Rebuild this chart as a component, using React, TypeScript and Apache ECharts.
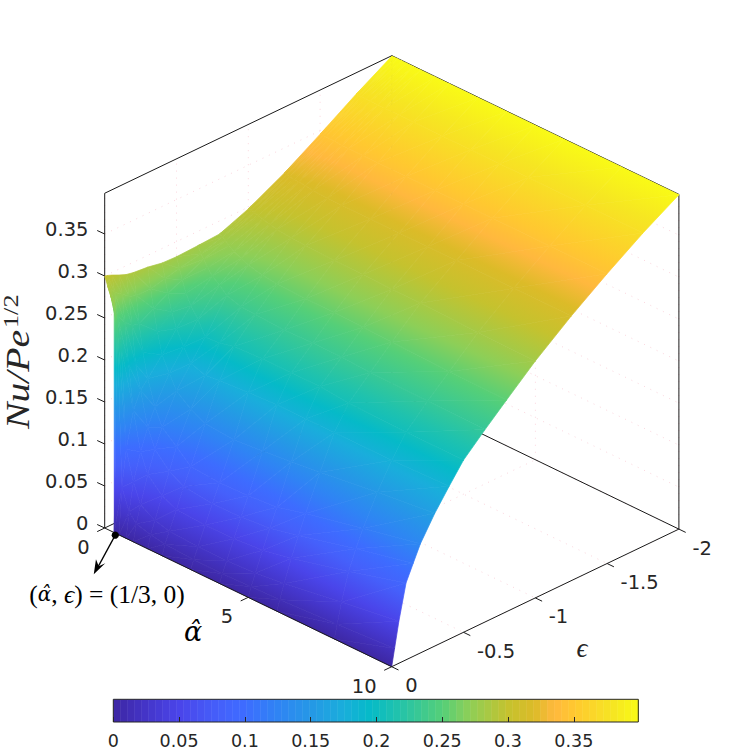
import React, { useEffect, useRef } from "react";
import * as echarts from "echarts";

const alphaValues = [0, 0.1, 0.2, 0.33, 1 / 3, 0.5, 0.75, 1, 1.5, 2, 3, 4, 5, 6, 8, 10];
const epsValues = [0, -0.02, -0.05, -0.1, -0.15, -0.2, -0.3, -0.4, -0.5, -0.65, -0.8, -1, -1.25, -1.5, -1.75, -2];
const nuRows = [
  [0.3, 0.299, 0.297, 0.293, 0.2895, 0.2877, 0.286, 0.2827, 0.282, 0.283, 0.2845, 0.298, 0.32, 0.346, 0.373, 0.398],
  [0.29, 0.285, 0.278, 0.272, 0.265, 0.262, 0.262, 0.266, 0.27, 0.275, 0.283, 0.298, 0.32, 0.346, 0.373, 0.398],
  [0.282, 0.268, 0.252, 0.24, 0.232, 0.23, 0.24, 0.25, 0.258, 0.27, 0.28, 0.297, 0.319, 0.346, 0.373, 0.398],
  [0.276, 0.245, 0.215, 0.192, 0.188, 0.198, 0.215, 0.23, 0.244, 0.262, 0.276, 0.296, 0.318, 0.346, 0.373, 0.398],
  [0, 0.245, 0.215, 0.192, 0.188, 0.198, 0.215, 0.23, 0.244, 0.262, 0.276, 0.296, 0.318, 0.346, 0.373, 0.398],
  [0, 0.055, 0.098, 0.14, 0.16, 0.17, 0.19, 0.213, 0.232, 0.255, 0.272, 0.294, 0.318, 0.346, 0.373, 0.398],
  [0, 0.03, 0.063, 0.095, 0.12, 0.14, 0.172, 0.195, 0.22, 0.248, 0.268, 0.292, 0.317, 0.345, 0.373, 0.398],
  [0, 0.02, 0.04, 0.072, 0.098, 0.12, 0.155, 0.18, 0.203, 0.24, 0.264, 0.29, 0.316, 0.345, 0.373, 0.398],
  [0, 0.015, 0.03, 0.055, 0.08, 0.105, 0.142, 0.174, 0.204, 0.235, 0.26, 0.288, 0.315, 0.345, 0.373, 0.398],
  [0, 0.012, 0.025, 0.047, 0.07, 0.09, 0.133, 0.176, 0.208, 0.234, 0.258, 0.287, 0.315, 0.345, 0.373, 0.398],
  [0, 0.01, 0.023, 0.045, 0.066, 0.087, 0.13, 0.178, 0.21, 0.232, 0.257, 0.286, 0.315, 0.345, 0.373, 0.398],
  [0, 0.01, 0.023, 0.045, 0.067, 0.088, 0.133, 0.18, 0.21, 0.233, 0.257, 0.286, 0.315, 0.345, 0.373, 0.398],
  [0, 0.011, 0.025, 0.048, 0.07, 0.091, 0.137, 0.18, 0.21, 0.233, 0.256, 0.285, 0.315, 0.345, 0.373, 0.398],
  [0, 0.012, 0.029, 0.055, 0.078, 0.1, 0.141, 0.18, 0.207, 0.231, 0.255, 0.285, 0.315, 0.345, 0.373, 0.398],
  [0, 0.016, 0.04, 0.072, 0.095, 0.115, 0.15, 0.18, 0.205, 0.23, 0.253, 0.283, 0.315, 0.345, 0.373, 0.398],
  [0, 0.02, 0.05, 0.0915, 0.111, 0.13, 0.158, 0.182, 0.205, 0.229, 0.252, 0.282, 0.315, 0.345, 0.373, 0.398],
];

const alphaTicks = [0, 5, 10];
const epsTicks = [0, -0.5, -1, -1.5, -2];
const nuTicks = [0, 0.05, 0.1, 0.15, 0.2, 0.25, 0.3, 0.35];
const nuTop = 0.3985;
const barMax = 0.399;
const singularPoint = [1 / 3, 0, -0.003];

const colorKnots: [number, string][] = [
  [0, "#3d27a3"],
  [0.025, "#4435c9"],
  [0.05, "#4a45ea"],
  [0.08, "#4560fb"],
  [0.1, "#3d6cff"],
  [0.125, "#2f84f4"],
  [0.15, "#2598e6"],
  [0.175, "#19aedb"],
  [0.195, "#05bac8"],
  [0.215, "#1fc2ae"],
  [0.25, "#55cf78"],
  [0.27, "#8ccf58"],
  [0.3, "#c5c22e"],
  [0.32, "#dcbb28"],
  [0.335, "#ffb83e"],
  [0.35, "#ffc830"],
  [0.38, "#f6e622"],
  [0.399, "#f9fb15"],
];

const hexToRgb = (h: string) => [1, 3, 5].map((i) => parseInt(h.slice(i, i + 2), 16));
function colorAt(z: number) {
  if (z <= colorKnots[0][0]) return colorKnots[0][1];
  for (let i = 1; i < colorKnots.length; i++) {
    if (z <= colorKnots[i][0]) {
      const [z0, c0] = colorKnots[i - 1];
      const [z1, c1] = colorKnots[i];
      const t = (z - z0) / (z1 - z0);
      const a = hexToRgb(c0);
      const b = hexToRgb(c1);
      return `rgb(${a.map((v, k) => Math.round(v + (b[k] - v) * t)).join(",")})`;
    }
  }
  return colorKnots[colorKnots.length - 1][1];
}

// the view of the 3-D box: orthographic, from alpha = 10, eps = 0
function project(a: number, e: number, z: number): [number, number] {
  return [104.7 + 28.7 * a - 143.6 * e, 528 + 13.87 * a + 68.8 * e - 840 * z];
}

type V = { p: [number, number]; z: number };
const triangles: V[][] = [];
for (let j = epsValues.length - 2; j >= 0; j--) {
  for (let i = 0; i < alphaValues.length - 1; i++) {
    const v = (r: number, c: number): V => ({
      p: project(alphaValues[r], epsValues[c], nuRows[r][c]),
      z: nuRows[r][c],
    });
    triangles.push([v(i, j + 1), v(i + 1, j + 1), v(i, j)]);
    triangles.push([v(i + 1, j + 1), v(i + 1, j), v(i, j)]);
  }
}

function triFill(pts: number[][], zs: number[]) {
  const [a, b, c] = pts;
  const det = (b[0] - a[0]) * (c[1] - a[1]) - (c[0] - a[0]) * (b[1] - a[1]);
  const zMin = Math.min(...zs);
  const zMax = Math.max(...zs);
  if (Math.abs(det) < 1e-6 || zMax - zMin < 1e-6) return colorAt((zMin + zMax) / 2);
  const gx = ((zs[1] - zs[0]) * (c[1] - a[1]) - (zs[2] - zs[0]) * (b[1] - a[1])) / det;
  const gy = ((zs[2] - zs[0]) * (b[0] - a[0]) - (zs[1] - zs[0]) * (c[0] - a[0])) / det;
  const g2 = gx * gx + gy * gy;
  const s = pts[zs.indexOf(zMin)];
  const d = (zMax - zMin) / g2;
  const stops = [{ offset: 0, color: colorAt(zMin) }];
  colorKnots.forEach(([k]) => {
    if (k > zMin && k < zMax) stops.push({ offset: (k - zMin) / (zMax - zMin), color: colorAt(k) });
  });
  stops.push({ offset: 1, color: colorAt(zMax) });
  return new echarts.graphic.LinearGradient(s[0], s[1], s[0] + gx * d, s[1] + gy * d, stops, true);
}

type Seg = [number, number, number, number, number, number];
const boxBack: Seg[] = [
  [0, 0, 0, 0, 0, nuTop],
  [0, 0, nuTop, 0, -2, nuTop],
  [0, -2, nuTop, 10, -2, nuTop],
  [10, -2, nuTop, 10, -2, 0],
  [10, -2, 0, 0, -2, 0],
  [0, -2, 0, 0, 0, 0],
  [0, -2, 0, 0, -2, nuTop],
];
const boxFront: Seg[] = [
  [0, 0, 0, 10, 0, 0],
  [10, 0, 0, 10, -2, 0],
];
const gridSegs: Seg[] = [];
nuTicks.forEach((z) => {
  gridSegs.push([0, 0, z, 0, -2, z]);
  gridSegs.push([0, -2, z, 10, -2, z]);
});
epsTicks.forEach((e) => {
  gridSegs.push([0, e, 0, 10, e, 0]);
  gridSegs.push([0, e, 0, 0, e, nuTop]);
});
alphaTicks.forEach((a) => {
  gridSegs.push([a, 0, 0, a, -2, 0]);
  gridSegs.push([a, -2, 0, a, -2, nuTop]);
});

const barCells = Array.from({ length: 75 }, (_, i) => i);

const INK = "#262626";
const SANS = '"DejaVu Sans"';
const SERIF = '"Liberation Serif"';
const MATH = '"DejaVu Serif"';

function App() {
  const ref = useRef<HTMLDivElement>(null);
  useEffect(() => {
    document.body.style.margin = "0";
    const chart = echarts.init(ref.current!, undefined, { renderer: "svg" });
    const segChild = (api: any, s: Seg, style: any) => {
      const p = api.coord(project(s[0], s[1], s[2]));
      const q = api.coord(project(s[3], s[4], s[5]));
      return { type: "line", shape: { x1: p[0], y1: p[1], x2: q[0], y2: q[1] }, style };
    };
    const lineStyle = { stroke: "#1a1a1a", lineWidth: 1, fill: "none" };
    const segSeries = (segs: Seg[], style: any, z: number) => ({
      type: "custom",
      coordinateSystem: "cartesian2d",
      xAxisIndex: 0,
      yAxisIndex: 0,
      clip: false,
      silent: true,
      z,
      data: segs.map((_, i) => [i, 0]),
      renderItem: (p: any, api: any) => segChild(api, segs[p.dataIndex], style),
    });
    const text = (x: number, y: number, t: string, font: any, extra: any = {}) => ({
      type: "text",
      x,
      y,
      ...extra.el,
      style: {
        text: t,
        fill: INK,
        fontFamily: font.family || SANS,
        fontSize: font.size,
        fontStyle: font.style || "normal",
        textAlign: font.align || "center",
        textVerticalAlign: "middle",
        ...extra.style,
      },
    });
    chart.setOption({
      animation: false,
      backgroundColor: "#ffffff",
      grid: [
        { left: 0, top: 0, width: 750, height: 750, show: false },
        { left: 113.3, top: 699.3, width: 525, height: 23, show: true, borderColor: INK, borderWidth: 1, backgroundColor: "transparent", z: 20 },
      ],
      xAxis: [
        { type: "value", gridIndex: 0, min: 0, max: 750, show: false },
        {
          type: "value",
          gridIndex: 1,
          min: 0,
          max: barMax,
          interval: 0.05,
          axisLine: { show: false },
          splitLine: { show: false },
          axisTick: { show: true, inside: true, length: 5, lineStyle: { color: INK, width: 1 } },
          axisLabel: { color: INK, fontFamily: "DejaVu Sans", fontSize: 17.5, margin: 10, showMaxLabel: false },
          z: 21,
        },
      ],
      yAxis: [
        { type: "value", gridIndex: 0, min: 0, max: 750, inverse: true, show: false },
        { type: "value", gridIndex: 1, min: 0, max: 1, show: false },
      ],
      series: [
        segSeries(gridSegs, { stroke: "#fbd6de", lineWidth: 1, lineDash: [1, 6], fill: "none" }, 1),
        segSeries(boxBack, lineStyle, 2),
        {
          type: "custom",
          coordinateSystem: "cartesian2d",
          xAxisIndex: 0,
          yAxisIndex: 0,
          clip: false,
          silent: true,
          z: 3,
          data: triangles.map((_, i) => [i, 0]),
          renderItem: (p: any, api: any) => {
            const t = triangles[p.dataIndex];
            const pts = t.map((v) => api.coord(v.p));
            const fill = triFill(pts, t.map((v) => v.z));
            return {
              type: "polygon",
              shape: { points: pts },
              style: { fill, stroke: fill, lineWidth: 0.7 },
            };
          },
        },
        segSeries(boxFront, lineStyle, 4),
        {
          type: "custom",
          coordinateSystem: "cartesian2d",
          xAxisIndex: 0,
          yAxisIndex: 0,
          clip: false,
          silent: true,
          z: 5,
          data: [[0, 0]],
          renderItem: (_: any, api: any) => {
            const children: any[] = [];
            const tick = (p: number[], dx: number, dy: number) => ({
              type: "line",
              shape: { x1: p[0], y1: p[1], x2: p[0] + dx, y2: p[1] + dy },
              style: { stroke: "#1a1a1a", lineWidth: 1 },
            });
            nuTicks.forEach((z) => {
              const p = api.coord(project(0, 0, z));
              children.push(tick(p, -7.5, -3.5));
              children.push(text(88.5, p[1] - 4.5, String(z), { size: 19.5, align: "right" }));
            });
            alphaTicks.forEach((a) => {
              const p = api.coord(project(a, 0, 0));
              children.push(tick(p, -7.5, 3.6));
              children.push(text(p[0] - 15, p[1] + 19.5, String(a), { size: 19.5, align: "right" }));
            });
            epsTicks.forEach((e) => {
              const p = api.coord(project(10, e, 0));
              children.push(tick(p, 6.8, 3.3));
              children.push(text(p[0] + 13.5, p[1] + 19, String(e), { size: 19.5, align: "left" }));
            });
            const d = api.coord(project(singularPoint[0], singularPoint[1], singularPoint[2]));
            const dot = [d[0] + 1, d[1]];
            children.push({ type: "line", shape: { x1: dot[0], y1: dot[1], x2: dot[0] - 19, y2: dot[1] + 35 }, style: { stroke: "#000", lineWidth: 1.3 } });
            children.push({
              type: "polygon",
              shape: { points: [[dot[0] - 21.5, dot[1] + 39], [dot[0] - 19.3, dot[1] + 24], [dot[0] - 16.5, dot[1] + 31], [dot[0] - 10, dot[1] + 28]] },
              style: { fill: "#000" },
            });
            children.push({ type: "circle", shape: { cx: dot[0], cy: dot[1], r: 3.6 }, style: { fill: "#000" } });
            children.push(
              text(107, 594, "({h|α̂}, {i|ϵ}) = (1/3, 0)", { family: SERIF, size: 25.5 }, {
                style: {
                  fill: "#000",
                  rich: {
                    h: { fontStyle: "italic", fontFamily: MATH, fontSize: 20 },
                    i: { fontStyle: "italic", fontFamily: SERIF, fontSize: 25.5 },
                  },
                },
              }),
            );
            children.push(text(193, 631, "α̂", { family: MATH, size: 27, style: "italic" }, { style: { fill: "#000" } }));
            children.push(text(582, 648, "ϵ", { family: SERIF, size: 27, style: "italic" }));
            children.push(
              text(18, 429, "Nu/Pe", { family: SERIF, size: 33, style: "italic", align: "left" }, { el: { rotation: Math.PI / 2, scaleX: 1.2 } }),
            );
            children.push(
              text(11, 328, "1/2", { family: SERIF, size: 21, align: "left" }, { el: { rotation: Math.PI / 2, scaleX: 1.25 } }),
            );
            return { type: "group", children };
          },
        },
        {
          type: "custom",
          coordinateSystem: "cartesian2d",
          xAxisIndex: 1,
          yAxisIndex: 1,
          silent: true,
          z: 6,
          data: barCells.map((i) => [i, 0]),
          renderItem: (p: any, api: any) => {
            const w = barMax / barCells.length;
            const v0 = p.dataIndex * w;
            const a = api.coord([v0, 1]);
            const b = api.coord([v0 + w, 0]);
            return {
              type: "rect",
              shape: { x: a[0], y: a[1], width: b[0] - a[0] + 0.5, height: b[1] - a[1] },
              style: { fill: colorAt(v0 + w / 2) },
            };
          },
        },
      ],
    });
    return () => chart.dispose();
  }, []);
  return <div ref={ref} style={{ width: 750, height: 750 }} />;
}

export default App;
